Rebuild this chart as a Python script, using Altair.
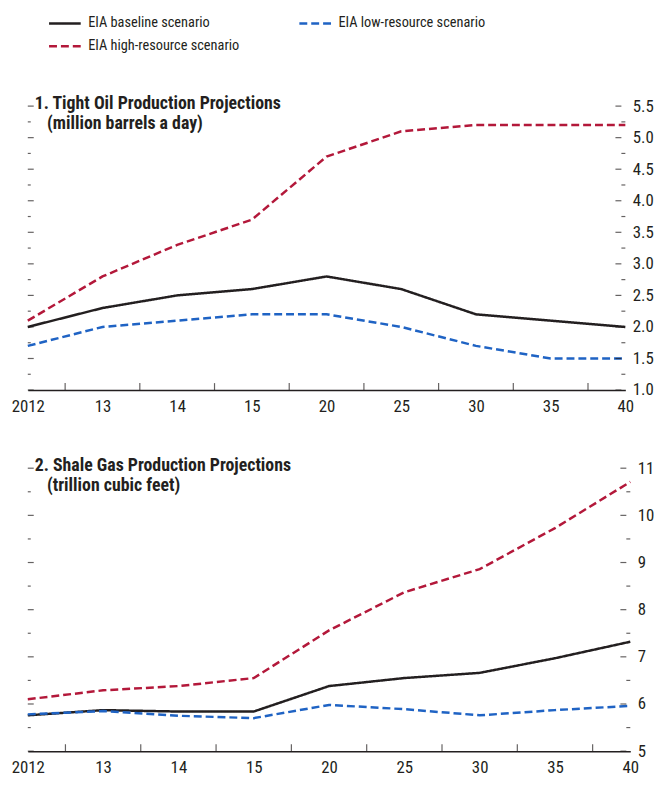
import altair as alt
import pandas as pd

years = ["2012", "13", "14", "15", "20", "25", "30", "35", "40"]
series = ["EIA baseline scenario", "EIA low-resource scenario", "EIA high-resource scenario"]
colors = ["#231f20", "#1f63c4", "#b3183a"]
dashes = [[1, 0], [8, 4], [8, 4]]

oil_baseline = [2.0, 2.3, 2.5, 2.6, 2.8, 2.6, 2.2, 2.1, 2.0]
oil_low = [1.7, 2.0, 2.1, 2.2, 2.2, 2.0, 1.7, 1.5, 1.5]
oil_high = [2.1, 2.8, 3.3, 3.7, 4.7, 5.1, 5.2, 5.2, 5.2]

gas_baseline = [5.76, 5.87, 5.84, 5.84, 6.38, 6.55, 6.66, 6.97, 7.32]
gas_low = [5.78, 5.85, 5.75, 5.70, 5.98, 5.89, 5.76, 5.87, 5.96]
gas_high = [6.10, 6.29, 6.38, 6.55, 7.56, 8.37, 8.86, 9.73, 10.71]

oil_major = [1.0, 1.5, 2.0, 2.5, 3.0, 3.5, 4.0, 4.5, 5.0, 5.5]
oil_minor = [1.25, 1.75, 2.25, 2.75, 3.25, 3.75, 4.25, 4.75, 5.25]
gas_major = [5, 6, 7, 8, 9, 10, 11]
gas_minor = [5.5, 6.5, 7.5, 8.5, 9.5, 10.5]

FONT = "Liberation Sans Narrow, Roboto Condensed, Arial Narrow, sans-serif"
TXT = "#231f20"

idx = list(range(len(years)))
mids = [i + 0.5 for i in idx[:-1]]
label_expr = "[" + ",".join("'%s'" % y for y in years) + "][round(datum.value)]"


def make_df(b, l, h):
    rows = []
    for name, vals in zip(series, [b, l, h]):
        for i, v in enumerate(vals):
            rows.append({"idx": i, "year": years[i], "value": v, "series": name})
    return pd.DataFrame(rows)


def legend():
    return alt.Legend(title=None, orient="none", legendX=26, legendY=-95, direction="horizontal",
                      columns=2, symbolType="M-1.6,0H1.6", symbolSize=400, symbolStrokeWidth=2.5,
                      symbolFillColor="transparent",
                      labelFont=FONT, labelFontSize=14.5, labelColor=TXT, labelOffset=12,
                      columnPadding=55, rowPadding=5, labelLimit=400, padding=0, values=series)


def panel(df, ydom, major, minor, fmt, title, subtitle, width, height):
    xs = alt.Scale(domain=[0, len(years) - 1], nice=False, zero=False)
    ys = alt.Scale(domain=ydom, nice=False, zero=False)
    lines = alt.Chart(df).mark_line(strokeWidth=2.5).encode(
        x=alt.X("idx:Q", scale=xs, axis=alt.Axis(
            orient="bottom", values=idx, labelExpr=label_expr, ticks=False,
            domain=True, domainColor=TXT, domainWidth=1.5, labelPadding=9,
            labelFont=FONT, labelFontSize=17, labelColor=TXT, grid=False,
            labelFlush=False, labelOverlap=False, title=None)),
        y=alt.Y("value:Q", scale=ys, axis=alt.Axis(
            orient="right", values=major, ticks=False, labelPadding=7, domain=False,
            grid=False, title=None, format=fmt, labelFont=FONT, labelFontSize=17,
            labelColor=TXT, labelOverlap=False, labelFlush=False)),
        color=alt.Color("series:N", sort=series, scale=alt.Scale(domain=series, range=colors),
                        legend=legend()),
        strokeDash=alt.StrokeDash("series:N", sort=series,
                                  scale=alt.Scale(domain=series, range=dashes), legend=legend()),
    )
    first, last = idx[0], idx[-1]
    maj = pd.DataFrame({"v": major})
    mnr = pd.DataFrame({"v": minor})
    mid = pd.DataFrame({"m": mids})

    def ytick(d, xval, size, off):
        return alt.Chart(d).mark_tick(orient="horizontal", size=size, thickness=1.2,
                                      color=TXT, xOffset=off).encode(
            x=alt.datum(xval, scale=xs, axis=None),
            y=alt.Y("v:Q", scale=ys, axis=None))

    r_major = ytick(maj, last, 6, -7)
    r_minor = ytick(mnr, last, 4, -2)
    l_major = ytick(maj, first, 6, 3)
    l_minor = ytick(mnr, first, 3, 1.5)
    x_ticks = alt.Chart(mid).mark_tick(orient="vertical", size=7, thickness=1.2,
                                       color=TXT, yOffset=-3.5).encode(
        x=alt.X("m:Q", scale=xs, axis=None),
        y=alt.datum(ydom[0], scale=ys, axis=None))

    return alt.layer(lines, r_major, r_minor, l_major, l_minor, x_ticks).resolve_axis(
        x="independent", y="independent"
    ).properties(
        width=width, height=height,
        title=alt.TitleParams(
            text=title, subtitle=subtitle, anchor="start", frame="group", font=FONT,
            fontSize=18, fontWeight="bold", color=TXT, subtitleFont=FONT,
            subtitleFontSize=18, subtitleFontWeight="bold", subtitleColor=TXT,
            subtitlePadding=2, dx=7, dy=36, offset=0),
    )


p1 = panel(make_df(oil_baseline, oil_low, oil_high), [1.0, 5.5], oil_major, oil_minor, ".1f",
           "1. Tight Oil Production Projections",
           "\u200b\u00a0\u00a0\u00a0(million barrels a day)", 604, 287)
p2 = panel(make_df(gas_baseline, gas_low, gas_high), [5, 11], gas_major, gas_minor, "d",
           "2. Shale Gas Production Projections",
           "\u200b\u00a0\u00a0\u00a0(trillion cubic feet)", 609, 286)

chart = alt.vconcat(p1, p2, spacing=43).properties(
    padding={"left": 3, "right": 3, "top": 0, "bottom": 0}
).configure_view(stroke=None)

chart.save("out.html", embed_options={"renderer": "svg", "actions": False})
